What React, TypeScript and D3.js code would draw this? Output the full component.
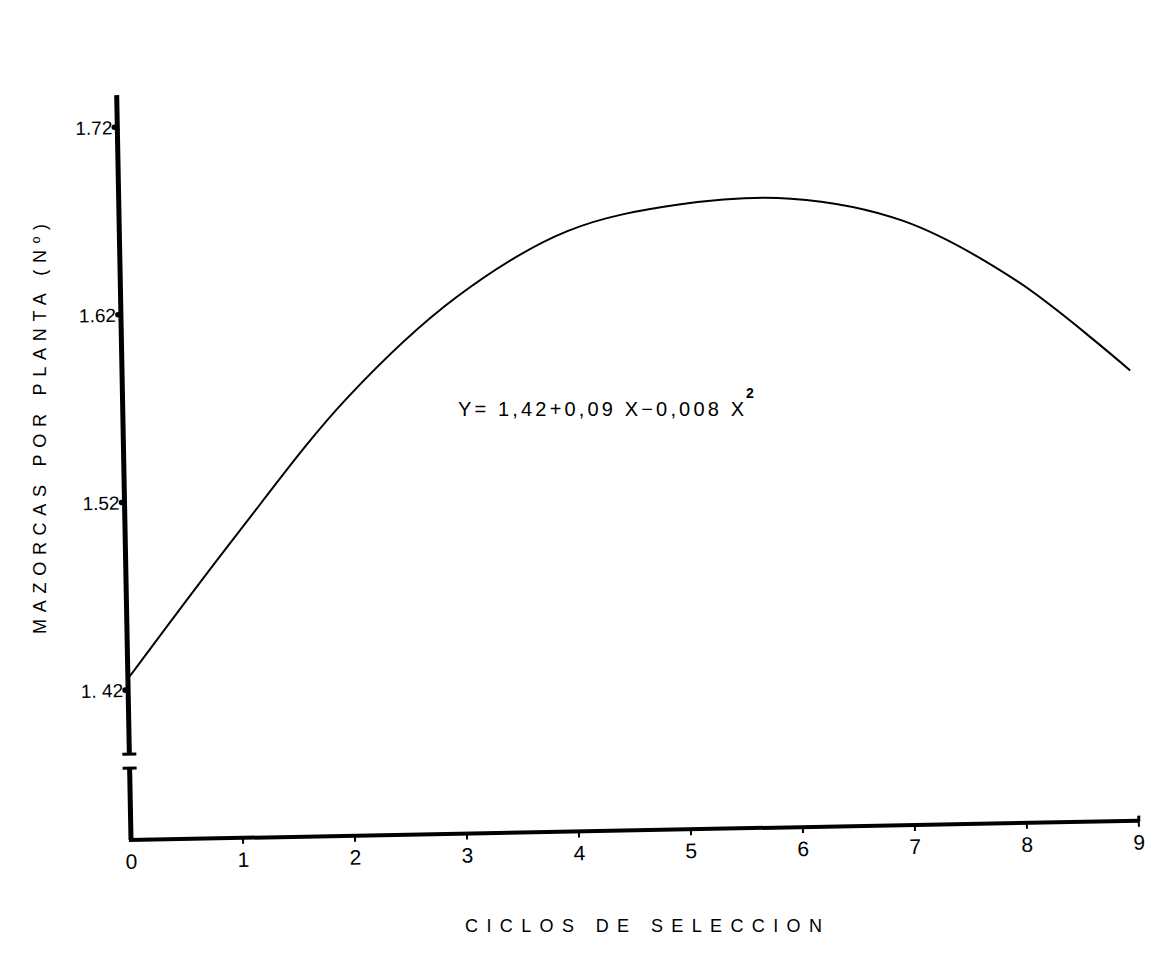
import React from "react"
import * as d3 from "d3"

// values
const ciclos = [0, 1, 2, 3, 4, 5, 6, 7, 8, 9]
const mazorcas = [1.426, 1.502, 1.573, 1.626, 1.66, 1.673, 1.675, 1.662, 1.629, 1.58]
const yTicks = [1.42, 1.52, 1.62, 1.72]
const yTickLabels = ["1. 42", "1.52", "1.62", "1.72"]
const xTickLabels = ["0", "1", "2", "3", "4", "5", "6", "7", "8", "9"]

const yTitle = "MAZORCAS POR PLANTA (Nº)"
const xTitle = "CICLOS DE SELECCION"

function App() {
  const width = 1152
  const height = 970
  const origin = { x: 131, y: 840 }
  const tilt = -1.1 // the scan is slightly rotated

  const x = d3.scaleLinear().domain([0, 9]).range([0, 1008])
  const y = d3.scaleLinear().domain([1.42, 1.72]).range([-150, -713])

  const axisTop = -745
  const breakLow = -72
  const breakHigh = -86

  const line = d3
    .line<number>()
    .x((d, i) => x(ciclos[i]))
    .y(d => y(d))
    .curve(d3.curveCatmullRom.alpha(0.5))

  const font = "'Liberation Sans', Arial, sans-serif"

  return (
    <svg
      width={width}
      height={height}
      style={{ position: "absolute", left: 0, top: 0, background: "#fff" }}
    >
      <g transform={`translate(${origin.x},${origin.y}) rotate(${tilt})`}>
        {/* y axis with break */}
        <line x1={0} y1={0} x2={0} y2={breakLow} stroke="#000" strokeWidth={5} />
        <line x1={-7} y1={breakLow} x2={7} y2={breakLow} stroke="#000" strokeWidth={3} />
        <line x1={-7} y1={breakHigh} x2={7} y2={breakHigh} stroke="#000" strokeWidth={3} />
        <line x1={0} y1={breakHigh} x2={0} y2={axisTop} stroke="#000" strokeWidth={5} />

        {/* x axis */}
        <line x1={-2} y1={0} x2={x(9)} y2={0} stroke="#000" strokeWidth={4} />
        <line x1={x(9)} y1={1} x2={x(9)} y2={-5} stroke="#000" strokeWidth={3} />

        {ciclos.map((c, i) => (
          <g key={c} transform={`translate(${x(c)},0)`}>
            {i > 0 && <line y1={0} y2={6} stroke="#000" strokeWidth={2} />}
            <text
              y={29}
              textAnchor="middle"
              fontFamily={font}
              fontSize={21}
              fill="#000"
            >
              {xTickLabels[i]}
            </text>
          </g>
        ))}

        {yTicks.map((t, i) => (
          <g key={t} transform={`translate(0,${y(t)})`}>
            <circle cx={-3} cy={0} r={2.8} fill="#000" />
            <text
              x={-5}
              y={7}
              textAnchor="end"
              fontFamily={font}
              fontSize={19}
              fill="#000"
            >
              {yTickLabels[i]}
            </text>
          </g>
        ))}

        <path d={line(mazorcas) || ""} fill="none" stroke="#000" strokeWidth={2} />
      </g>

      <text
        x={458}
        y={416}
        fontFamily={font}
        fontSize={20}
        fill="#000"
        textLength={286}
        lengthAdjust="spacing"
      >
        Y= 1,42+0,09 X−0,008 X
      </text>
      <text x={746} y={398} fontFamily={font} fontSize={14} fontWeight="bold" fill="#000">
        2
      </text>

      <text
        transform="translate(46,634) rotate(-90)"
        fontFamily={font}
        fontSize={18}
        fill="#000"
        textLength={410}
        lengthAdjust="spacing"
      >
        {yTitle}
      </text>

      <text
        x={465}
        y={932}
        fontFamily={font}
        fontSize={18}
        fill="#000"
        textLength={357}
        lengthAdjust="spacing"
      >
        {xTitle}
      </text>
    </svg>
  )
}

export default App
